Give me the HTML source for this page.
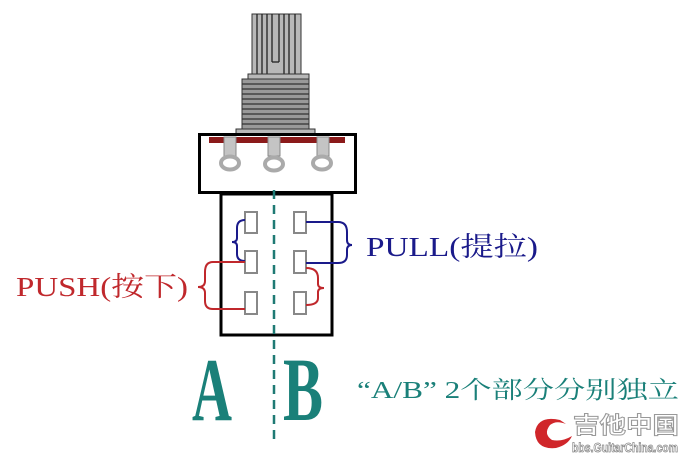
<!DOCTYPE html>
<html><head><meta charset="utf-8"><style>
html,body{margin:0;padding:0;background:#fff;}
svg{display:block;}
</style></head><body>
<svg width="686" height="459" viewBox="0 0 686 459" xmlns="http://www.w3.org/2000/svg">
<rect x="252" y="14" width="49" height="60" fill="#b8b8b8" stroke="#333" stroke-width="1"/>
<g stroke="#222" stroke-width="1.3">
<line x1="257" y1="14" x2="257" y2="74"/><line x1="262" y1="14" x2="262" y2="74"/><line x1="267" y1="14" x2="267" y2="74"/><line x1="272" y1="14" x2="272" y2="62"/>
<line x1="279" y1="14" x2="279" y2="62"/><line x1="284" y1="14" x2="284" y2="74"/><line x1="289" y1="14" x2="289" y2="74"/><line x1="295" y1="14" x2="295" y2="74"/>
<line x1="272" y1="62" x2="279" y2="62"/>
</g>
<rect x="248" y="74" width="61" height="5" fill="#b8b8b8" stroke="#333" stroke-width="1"/>
<rect x="242" y="79" width="67" height="50" fill="#999" stroke="#333" stroke-width="1"/>
<g stroke="#333" stroke-width="1.2">
<line x1="242" y1="84" x2="309" y2="84"/><line x1="242" y1="89" x2="309" y2="89"/><line x1="242" y1="94" x2="309" y2="94"/><line x1="242" y1="99" x2="309" y2="99"/><line x1="242" y1="104" x2="309" y2="104"/><line x1="242" y1="109" x2="309" y2="109"/><line x1="242" y1="114" x2="309" y2="114"/><line x1="242" y1="119" x2="309" y2="119"/><line x1="242" y1="124" x2="309" y2="124"/>
</g>
<rect x="236" y="129" width="79" height="6" fill="#b8b8b8" stroke="#333" stroke-width="1"/>
<rect x="199.5" y="134.5" width="156" height="58" fill="#fff" stroke="#000" stroke-width="3"/>
<rect x="209" y="137" width="136" height="6" fill="#8b1a1a"/>
<g fill="#c4c4c4" stroke="#888" stroke-width="1">
<rect x="224" y="137" width="12" height="19"/><rect x="268" y="137" width="12" height="19"/><rect x="317" y="137" width="12" height="19"/>
</g>
<g fill="none" stroke="#aaa" stroke-width="4">
<ellipse cx="230" cy="163" rx="9" ry="6.5"/><ellipse cx="274" cy="164" rx="9" ry="6.5"/><ellipse cx="322" cy="163" rx="9" ry="6.5"/>
</g>
<rect x="221" y="194" width="111" height="141" fill="#fff" stroke="#000" stroke-width="3"/>
<line x1="274" y1="190" x2="274" y2="442" stroke="#1f7a74" stroke-width="2.5" stroke-dasharray="9,6"/>
<g fill="#fff" stroke="#888" stroke-width="2">
<rect x="245" y="212" width="12" height="21"/><rect x="294" y="212" width="12" height="21"/>
<rect x="245" y="251" width="12" height="22"/><rect x="294" y="251" width="12" height="22"/>
<rect x="245" y="292" width="12" height="22"/><rect x="294" y="292" width="12" height="22"/>
</g>
<g fill="none" stroke="#1a1a8a" stroke-width="2">
<path d="M245 220 Q237 220 237 228 L237 238 Q237 242 232 242 Q237 242 237 246 L237 254 Q237 261 245 261"/>
<path d="M306 222 L338 222 Q347 222 347 232 L347 240 Q347 245 352 245 Q347 245 347 250 L347 255 Q347 263 338 263 L306 263"/>
</g>
<g fill="none" stroke="#c0282c" stroke-width="2">
<path d="M245 262 L213 262 Q205 262 205 272 L205 281 Q205 287 198 287 Q205 287 205 293 L205 301 Q205 309 213 309 L245 309"/>
<path d="M306 268 Q318 268 318 278 L318 284 Q318 288 324 288 Q318 288 318 292 L318 298 Q318 305 306 305"/>
</g>
<g font-family="'Liberation Serif','Noto Serif CJK SC',serif">
<text x="366" y="256" font-size="27" fill="#1a1a8a" textLength="172" lengthAdjust="spacingAndGlyphs">PULL(提拉)</text>
<text x="16" y="296" font-size="27" fill="#c0282c" textLength="172" lengthAdjust="spacingAndGlyphs">PUSH(按下)</text>
<text x="192" y="420" font-size="90" font-weight="bold" fill="#1a8079" textLength="40" lengthAdjust="spacingAndGlyphs">A</text>
<text x="283" y="420" font-size="90" font-weight="bold" fill="#1a8079" textLength="40" lengthAdjust="spacingAndGlyphs">B</text>
<text x="357" y="398" font-size="24" fill="#1a8079" textLength="322" lengthAdjust="spacingAndGlyphs">“A/B” 2个部分分别独立</text>
</g>
<path d="M560 420 Q538 415 535 432 Q536 450 556 448 Q568 445 572 436 Q562 442 552 440 Q543 434 550 425 Q556 420 566 424 Z" fill="#d0262a"/>
<g font-family="'Liberation Sans','Noto Sans CJK SC',sans-serif" font-weight="bold">
<text x="573" y="433" font-size="23" fill="#fff" stroke="#999" stroke-width="1" textLength="106" lengthAdjust="spacingAndGlyphs">吉他中国</text>
<text x="572" y="452" font-size="13" fill="#fff" stroke="#888" stroke-width="0.8" textLength="106" lengthAdjust="spacingAndGlyphs">bbs.GuitarChina.com</text>
</g>
</svg>
</body></html>
